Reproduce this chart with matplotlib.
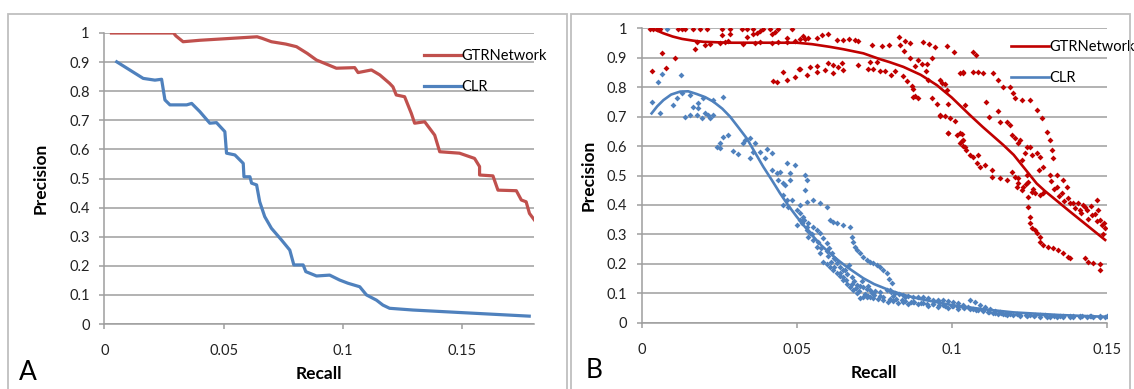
import matplotlib.pyplot as plt
from matplotlib.patches import Rectangle

plt.rcParams['font.family'] = ['Lato', 'DejaVu Sans']

# ---- Panel A: precision-recall curves ----
a_gtr_recall = [0.003, 0.029, 0.030, 0.033, 0.040, 0.050, 0.064, 0.066, 0.070, 0.076, 0.0805,
                0.085, 0.0889, 0.0916, 0.0972, 0.1049, 0.1063, 0.1119, 0.1154, 0.1195, 0.1209,
                0.1223, 0.1258, 0.1286, 0.130, 0.1342, 0.1384, 0.1405, 0.1488, 0.1551, 0.1572,
                0.1572, 0.1628, 0.1649, 0.1726, 0.1747, 0.1767, 0.1781, 0.1802]
a_gtr_prec = [1.0, 1.0, 0.99, 0.970, 0.975, 0.980, 0.987, 0.982, 0.970, 0.962, 0.953,
              0.930, 0.907, 0.898, 0.879, 0.881, 0.864, 0.873, 0.856, 0.827, 0.815,
              0.787, 0.781, 0.724, 0.690, 0.695, 0.649, 0.592, 0.587, 0.569, 0.541,
              0.512, 0.509, 0.460, 0.458, 0.426, 0.420, 0.380, 0.357]

a_clr_recall = [0.0052, 0.0163, 0.0212, 0.024, 0.0254, 0.0275, 0.0345, 0.0366, 0.040, 0.0442,
                0.047, 0.0505, 0.0512, 0.0547, 0.0582, 0.0585, 0.061, 0.0617, 0.0638, 0.0651,
                0.0672, 0.070, 0.0742, 0.0777, 0.0794, 0.0833, 0.0844, 0.0889, 0.0944, 0.0986,
                0.1021, 0.107, 0.1098, 0.114, 0.1167, 0.1195, 0.1293, 0.150, 0.178]
a_clr_prec = [0.901, 0.844, 0.838, 0.841, 0.770, 0.753, 0.753, 0.758, 0.730, 0.690,
              0.692, 0.661, 0.587, 0.581, 0.552, 0.506, 0.506, 0.484, 0.478, 0.420,
              0.369, 0.329, 0.289, 0.254, 0.203, 0.203, 0.180, 0.165, 0.168, 0.151,
              0.140, 0.128, 0.100, 0.082, 0.065, 0.054, 0.048, 0.039, 0.027]

# ---- Panel B: trend lines ----
b_gtr_fit_recall = [0.0032, 0.005, 0.007, 0.010, 0.013, 0.0166, 0.020, 0.0285, 0.040, 0.05,
                    0.055, 0.0607, 0.065, 0.0715, 0.0769, 0.080, 0.0844, 0.090, 0.0952, 0.100,
                    0.1059, 0.110, 0.1166, 0.120, 0.1274, 0.130, 0.1382, 0.1495]
b_gtr_fit_prec = [1.0, 0.992, 0.983, 0.972, 0.964, 0.958, 0.954, 0.951, 0.951, 0.951,
                  0.946, 0.937, 0.929, 0.915, 0.895, 0.885, 0.869, 0.842, 0.807, 0.765,
                  0.705, 0.665, 0.604, 0.570, 0.473, 0.448, 0.377, 0.281]
b_clr_fit_recall = [0.0032, 0.005, 0.007, 0.0095, 0.0124, 0.015, 0.0177, 0.0205, 0.0231,
                    0.026, 0.0285, 0.031, 0.0339, 0.0365, 0.0392, 0.042, 0.0446, 0.0473,
                    0.05, 0.0527, 0.0554, 0.058, 0.0607, 0.0634, 0.0661, 0.069, 0.0715,
                    0.075, 0.08, 0.085, 0.09, 0.10, 0.11, 0.12, 0.135, 0.15]
b_clr_fit_prec = [0.711, 0.735, 0.756, 0.775, 0.785, 0.786, 0.777, 0.766, 0.751,
                  0.727, 0.700, 0.666, 0.626, 0.579, 0.530, 0.484, 0.440, 0.398,
                  0.360, 0.325, 0.292, 0.262, 0.236, 0.212, 0.190, 0.169, 0.151,
                  0.131, 0.110, 0.093, 0.080, 0.060, 0.046, 0.035, 0.026, 0.020]

# ---- Panel B: scattered points ----
b_gtr_x = [0.0027, 0.0037, 0.0048, 0.0059, 0.0118, 0.0129, 0.014, 0.0166, 0.0188, 0.021,
           0.0258, 0.0285, 0.0323, 0.0339, 0.036, 0.0392, 0.0414, 0.0441, 0.0484,
           0.0258, 0.0285, 0.0339, 0.0360, 0.0371, 0.0383, 0.0419, 0.0430, 0.0468,
           0.0177, 0.0221, 0.0253, 0.0269, 0.0280, 0.0328, 0.0366, 0.0382, 0.0419, 0.0441,
           0.0468, 0.0495, 0.0511, 0.0527,
           0.0172, 0.0204, 0.0065, 0.0107, 0.0032, 0.0077,
           0.0425, 0.0435, 0.0457, 0.0468, 0.0495, 0.0507,
           0.0521, 0.0537, 0.0565, 0.0581, 0.0602, 0.0629, 0.065, 0.067, 0.0688, 0.0699,
           0.0742, 0.0774, 0.0799, 0.0831, 0.0833, 0.0849, 0.0846, 0.0866, 0.0908, 0.0928,
           0.0946, 0.0984, 0.1007,
           0.0511, 0.0532, 0.0543, 0.0565, 0.0565, 0.0591, 0.0602, 0.0618, 0.0618, 0.0634,
           0.0645, 0.065, 0.0699, 0.0736, 0.0731, 0.0747, 0.0758, 0.0769, 0.0785, 0.0803,
           0.0817, 0.0844, 0.0855, 0.0866, 0.0882, 0.0892, 0.0871, 0.0874, 0.0882, 0.0892,
           0.0919, 0.0917, 0.0925, 0.0935, 0.0952, 0.0962, 0.0968, 0.0978, 0.0984, 0.0989,
           0.0962, 0.0978, 0.0995, 0.1011, 0.0989, 0.1016, 0.1032, 0.1037, 0.1032, 0.1037,
           0.1046, 0.1043,
           0.107, 0.1078, 0.1037, 0.107, 0.1086, 0.1102, 0.1134, 0.115, 0.1166, 0.1188,
           0.1199, 0.1204, 0.1226, 0.1253, 0.1274, 0.129, 0.1306, 0.1317, 0.1323, 0.1328,
           0.1339, 0.136, 0.1371, 0.1376, 0.1408, 0.143, 0.1435, 0.1468, 0.1473, 0.1478,
           0.1484, 0.1495, 0.1452, 0.1414, 0.1392,
           0.1156, 0.1177, 0.1188, 0.1194, 0.1204, 0.1215, 0.122, 0.1242, 0.1253, 0.1236,
           0.1258, 0.1274, 0.1285, 0.1295, 0.1317, 0.1226, 0.1242, 0.1247, 0.1231, 0.1215,
           0.1215, 0.1258, 0.1269, 0.1285, 0.1295, 0.1339, 0.1355, 0.1382, 0.1398,
           0.1027, 0.1037, 0.1043, 0.1059, 0.107, 0.1086, 0.1081, 0.1092, 0.1107, 0.1129,
           0.1129, 0.1156, 0.1177, 0.1194, 0.1204, 0.121, 0.1226,
           0.1247, 0.1247, 0.1253, 0.1253, 0.1258, 0.1269, 0.1274, 0.1285, 0.1285, 0.1295,
           0.1312, 0.1328, 0.1344, 0.136, 0.1376, 0.1382, 0.143, 0.1441, 0.1457, 0.1478,
           0.1478, 0.1027, 0.0876, 0.0962, 0.0989, 0.1027,
           0.1418, 0.1425, 0.1440, 0.1450, 0.1462, 0.1470, 0.1488, 0.1492, 0.1320, 0.1330,
           0.1345, 0.1362, 0.1240, 0.1262, 0.1280, 0.1150, 0.1110, 0.1120, 0.0935, 0.0905]
b_gtr_y = [0.999, 0.999, 0.999, 0.999, 0.999, 0.999, 0.999, 0.999, 0.999, 0.999,
           0.999, 0.999, 0.999, 0.999, 0.999, 0.999, 0.999, 0.999, 0.999,
           0.978, 0.981, 0.972, 0.981, 0.985, 0.990, 0.981, 0.987, 0.967,
           0.955, 0.947, 0.951, 0.955, 0.958, 0.945, 0.951, 0.953, 0.951, 0.955,
           0.955, 0.958, 0.962, 0.962,
           0.931, 0.942, 0.916, 0.899, 0.856, 0.865,
           0.822, 0.817, 0.852, 0.825, 0.834, 0.863,
           0.973, 0.967, 0.967, 0.978, 0.981, 0.961, 0.961, 0.965, 0.961, 0.956,
           0.944, 0.939, 0.942, 0.969, 0.944, 0.958, 0.924, 0.950, 0.953, 0.947,
           0.935, 0.939, 0.919,
           0.863, 0.842, 0.867, 0.873, 0.852, 0.859, 0.882, 0.876, 0.848, 0.868,
           0.882, 0.859, 0.876, 0.886, 0.863, 0.863, 0.886, 0.856, 0.856, 0.840,
           0.856, 0.837, 0.822, 0.899, 0.871, 0.893, 0.803, 0.795, 0.769, 0.763,
           0.879, 0.854, 0.825, 0.763, 0.743, 0.825, 0.814, 0.811, 0.791, 0.743,
           0.701, 0.701, 0.695, 0.684, 0.644, 0.639, 0.641, 0.852, 0.616, 0.599,
           0.588, 0.738,
           0.920, 0.909, 0.847, 0.853, 0.853, 0.847, 0.847, 0.824, 0.802, 0.802,
           0.779, 0.762, 0.756, 0.756, 0.722, 0.694, 0.649, 0.621, 0.587, 0.558,
           0.502, 0.485, 0.462, 0.422, 0.406, 0.394, 0.383, 0.417, 0.383, 0.349,
           0.332, 0.321, 0.366, 0.383, 0.406,
           0.683, 0.683, 0.672, 0.638, 0.626, 0.609, 0.621, 0.598, 0.598, 0.575,
           0.570, 0.575, 0.564, 0.530, 0.502, 0.553, 0.502, 0.479, 0.462, 0.474,
           0.490, 0.445, 0.440, 0.434, 0.440, 0.462, 0.440, 0.406, 0.389,
           0.643, 0.621, 0.598, 0.570, 0.564, 0.570, 0.541, 0.530, 0.536, 0.519,
           0.496, 0.490, 0.485, 0.513, 0.496, 0.462, 0.451,
           0.428, 0.394, 0.360, 0.338, 0.321, 0.315, 0.304, 0.292, 0.275, 0.264,
           0.258, 0.253, 0.247, 0.236, 0.224, 0.219, 0.219, 0.207, 0.204, 0.199,
           0.179, 0.847, 0.768, 0.705, 0.643, 0.609,
           0.372, 0.400, 0.352, 0.395, 0.370, 0.345, 0.300, 0.340, 0.480, 0.455,
           0.430, 0.415, 0.470, 0.455, 0.520, 0.720, 0.750, 0.700, 0.900, 0.880]

b_clr_x = [0.0081, 0.0065, 0.0052, 0.0127,
           0.0032, 0.0059, 0.0102, 0.0113, 0.0129, 0.0156, 0.0166, 0.014, 0.0156, 0.0183,
           0.0183, 0.0177, 0.0194, 0.0204, 0.0215, 0.0199, 0.022, 0.0231, 0.0231, 0.0261,
           0.0242, 0.0253, 0.0263, 0.0279, 0.0253, 0.0294, 0.0312, 0.0328, 0.0333, 0.0349,
           0.0366, 0.036, 0.0349, 0.0382, 0.0398, 0.0403, 0.0419, 0.0419, 0.0435, 0.0446,
           0.0441, 0.0462, 0.0457, 0.0468, 0.0478, 0.0495, 0.0478, 0.0457, 0.0468, 0.0457,
           0.0484, 0.0473, 0.05, 0.05, 0.0511, 0.0521, 0.0527, 0.0532, 0.0527, 0.0532,
           0.0537, 0.0516,
           0.0511, 0.0522, 0.0532, 0.0543, 0.0554, 0.0565, 0.0575, 0.0586, 0.0597, 0.0607,
           0.0618, 0.0629, 0.0640, 0.065, 0.0661, 0.0672, 0.0683, 0.0694, 0.0704, 0.0715,
           0.0726, 0.0737, 0.0747, 0.0763, 0.0779,
           0.0521, 0.0538, 0.0554, 0.0565, 0.0575, 0.0586, 0.0597, 0.0605, 0.0613, 0.0621,
           0.0629, 0.0640, 0.065, 0.0663, 0.0677, 0.0686, 0.0694, 0.0704, 0.0715, 0.0726,
           0.0736, 0.0752, 0.0769, 0.079, 0.0803, 0.0817, 0.0830, 0.0844, 0.0860, 0.0876,
           0.0892, 0.0908, 0.0925, 0.0941, 0.0957, 0.0973, 0.0989, 0.1005, 0.1021, 0.1037,
           0.0511, 0.0532, 0.0554, 0.0575, 0.0597, 0.0607, 0.0618, 0.0629, 0.0650, 0.0672,
           0.0677, 0.0683, 0.0688, 0.0696, 0.0704, 0.0715, 0.0726, 0.0736, 0.0747, 0.0758,
           0.0769, 0.0780, 0.079, 0.0798, 0.0806, 0.0801,
           0.0795, 0.0812, 0.0828, 0.0844, 0.0860, 0.0876, 0.0892, 0.0908, 0.0925, 0.0941,
           0.0957, 0.0973, 0.0989, 0.1005, 0.1021, 0.1037, 0.1054, 0.107, 0.1086, 0.1102,
           0.1118, 0.1134, 0.115, 0.1166, 0.1177, 0.1199, 0.1221, 0.1242, 0.1264, 0.1285,
           0.1306, 0.1317, 0.1339, 0.136, 0.1381, 0.1392, 0.1414, 0.1435, 0.1457, 0.1478,
           0.1495, 0.1059, 0.1075, 0.1091, 0.1107, 0.1123, 0.1139, 0.1155, 0.1171, 0.1188,
           0.1220, 0.1253, 0.1285, 0.1317, 0.1350, 0.1382, 0.1414, 0.1446, 0.1478,
           0.055, 0.057, 0.058, 0.060, 0.061, 0.062, 0.064, 0.065, 0.066, 0.068,
           0.069, 0.070, 0.072, 0.073, 0.075, 0.077, 0.078, 0.080, 0.082, 0.084,
           0.085, 0.087, 0.088, 0.090, 0.092, 0.094, 0.096, 0.098, 0.100, 0.102,
           0.104, 0.106, 0.108, 0.110, 0.112, 0.114, 0.116, 0.118, 0.121, 0.124,
           0.127, 0.130, 0.133, 0.136, 0.139, 0.142, 0.145, 0.148, 0.150,
           0.0598, 0.0625, 0.0655, 0.0668, 0.0710, 0.0731, 0.0742, 0.0810, 0.0850, 0.0960]
b_clr_y = [0.999, 0.845, 0.818, 0.840,
           0.751, 0.713, 0.739, 0.762, 0.779, 0.773, 0.734, 0.700, 0.705, 0.745,
           0.728, 0.705, 0.694, 0.711, 0.705, 0.762, 0.694, 0.705, 0.756, 0.768,
           0.598, 0.609, 0.632, 0.638, 0.592, 0.584, 0.573, 0.609, 0.621, 0.626,
           0.609, 0.581, 0.558, 0.581, 0.558, 0.589, 0.575, 0.519, 0.507, 0.513,
           0.485, 0.468, 0.473, 0.541, 0.507, 0.536, 0.485, 0.434, 0.417, 0.400,
           0.417, 0.394, 0.383, 0.332, 0.349, 0.360, 0.502, 0.485, 0.451, 0.315,
           0.292, 0.338,
           0.372, 0.350, 0.326, 0.304, 0.281, 0.258, 0.236, 0.207, 0.198, 0.190,
           0.180, 0.168, 0.157, 0.145, 0.133, 0.122, 0.111, 0.100, 0.083, 0.086,
           0.088, 0.086, 0.083, 0.080, 0.077,
           0.349, 0.338, 0.326, 0.315, 0.304, 0.287, 0.270, 0.253, 0.236, 0.219,
           0.202, 0.190, 0.179, 0.167, 0.156, 0.142, 0.128, 0.125, 0.122, 0.116,
           0.111, 0.108, 0.105, 0.111, 0.105, 0.100, 0.097, 0.094, 0.091, 0.088,
           0.088, 0.088, 0.083, 0.077, 0.077, 0.077, 0.074, 0.071, 0.066, 0.060,
           0.400, 0.410, 0.417, 0.405, 0.394, 0.349, 0.343, 0.338, 0.332, 0.326,
           0.292, 0.275, 0.258, 0.247, 0.236, 0.224, 0.213, 0.207, 0.202, 0.196,
           0.190, 0.179, 0.168, 0.150, 0.134, 0.111,
           0.070, 0.075, 0.068, 0.072, 0.065, 0.070, 0.062, 0.066, 0.058, 0.063,
           0.055, 0.060, 0.050, 0.056, 0.048, 0.052, 0.054, 0.047, 0.044, 0.043,
           0.038, 0.032, 0.030, 0.028, 0.026, 0.025, 0.024, 0.023, 0.022, 0.021,
           0.020, 0.021, 0.020, 0.021, 0.020, 0.019, 0.020, 0.019, 0.020, 0.020,
           0.019, 0.077, 0.070, 0.060, 0.052, 0.046, 0.040, 0.035, 0.031, 0.029,
           0.027, 0.026, 0.025, 0.024, 0.023, 0.023, 0.022, 0.022, 0.021,
           0.300, 0.275, 0.255, 0.225, 0.205, 0.190, 0.170, 0.155, 0.145, 0.130,
           0.118, 0.108, 0.098, 0.092, 0.094, 0.090, 0.086, 0.082, 0.080, 0.077,
           0.074, 0.072, 0.069, 0.066, 0.064, 0.062, 0.060, 0.058, 0.056, 0.053,
           0.050, 0.047, 0.044, 0.040, 0.037, 0.034, 0.032, 0.030, 0.028, 0.027,
           0.026, 0.025, 0.024, 0.024, 0.023, 0.023, 0.022, 0.022, 0.022,
           0.245, 0.215, 0.180, 0.195, 0.140, 0.125, 0.100, 0.092, 0.086, 0.071]

y_ticks = [0, 0.1, 0.2, 0.3, 0.4, 0.5, 0.6, 0.7, 0.8, 0.9, 1]
y_labels = ['0', '0.1', '0.2', '0.3', '0.4', '0.5', '0.6', '0.7', '0.8', '0.9', '1']
x_ticks = [0, 0.05, 0.1, 0.15]
x_labels = ['0', '0.05', '0.1', '0.15']

red_a, blue_a = '#C0504D', '#4F81BD'
red_b = '#C00000'
grid_c = '#9E9E9E'

W, H = 1134, 389
fig = plt.figure(figsize=(W / 100, H / 100), dpi=100)
fig.patch.set_facecolor('white')


def px_axes(l, t, r, b):
    return fig.add_axes([l / W, 1 - b / H, (r - l) / W, (b - t) / H])


def style(ax, xmax, ylab_x):
    ax.set_xlim(0, xmax)
    ax.set_ylim(0, 1)
    ax.set_yticks(y_ticks)
    ax.set_yticklabels(y_labels)
    ax.set_xticks(x_ticks)
    ax.set_xticklabels(x_labels)
    ax.yaxis.grid(True, color=grid_c, linewidth=1.1)
    ax.set_axisbelow(True)
    for s in ['top', 'right']:
        ax.spines[s].set_visible(False)
    for s in ['left', 'bottom']:
        ax.spines[s].set_color(grid_c)
        ax.spines[s].set_linewidth(1.1)
    ax.tick_params(axis='y', length=3.5, color=grid_c, width=1.1, pad=7, labelsize=10.5,
                   labelcolor='#222222')
    ax.tick_params(axis='x', length=3.5, color=grid_c, width=1.1, pad=11, labelsize=10.5,
                   labelcolor='#222222')
    ax.set_ylabel('Precision', fontsize=12.5, fontweight='bold')
    ax.yaxis.set_label_coords(ylab_x, 0.5)
    ax.set_xlabel('Recall', fontsize=12.5, fontweight='bold', labelpad=6)


axA = px_axes(104.3, 33, 534, 324)
axA.plot(a_gtr_recall, a_gtr_prec, color=red_a, lw=2.3, label='GTRNetwork', solid_joinstyle='round')
axA.plot(a_clr_recall, a_clr_prec, color=blue_a, lw=2.3, label='CLR', solid_joinstyle='round')
style(axA, 0.18, -0.129)
axA.legend(loc='upper left', bbox_to_anchor=(0.73, 0.965), frameon=False, fontsize=10.5,
           handlelength=2.6, handletextpad=0.0, labelspacing=1.15, borderaxespad=0)

axB = px_axes(641.7, 28.3, 1106.7, 322.7)
axB.scatter(b_gtr_x, b_gtr_y, s=9, marker='D', color=red_b, linewidths=0, zorder=3)
axB.scatter(b_clr_x, b_clr_y, s=9, marker='D', color=blue_a, linewidths=0, zorder=3)
axB.plot(b_gtr_fit_recall, b_gtr_fit_prec, color=red_b, lw=1.9, label='GTRNetwork', zorder=4)
axB.plot(b_clr_fit_recall, b_clr_fit_prec, color=blue_a, lw=1.9, label='CLR', zorder=4)
style(axB, 0.15, -0.098)
axB.legend(loc='upper left', bbox_to_anchor=(0.782, 0.98), frameon=False, fontsize=10.5,
           handlelength=2.6, handletextpad=0.0, labelspacing=1.15, borderaxespad=0)

# panel borders and letters
for left, right in [(8, 567), (571, 1130)]:
    fig.add_artist(Rectangle((left / W, -0.05), (right - left) / W, 1 - 14 / H + 0.05,
                             transform=fig.transFigure, fill=False, edgecolor='#BFBFBF', lw=1.3))
fig.text(28 / W, 1 - 372 / H, 'A', fontsize=19, va='center', ha='center')
fig.text(594 / W, 1 - 371 / H, 'B', fontsize=19, va='center', ha='center')

fig.savefig('out.png', dpi=100)
